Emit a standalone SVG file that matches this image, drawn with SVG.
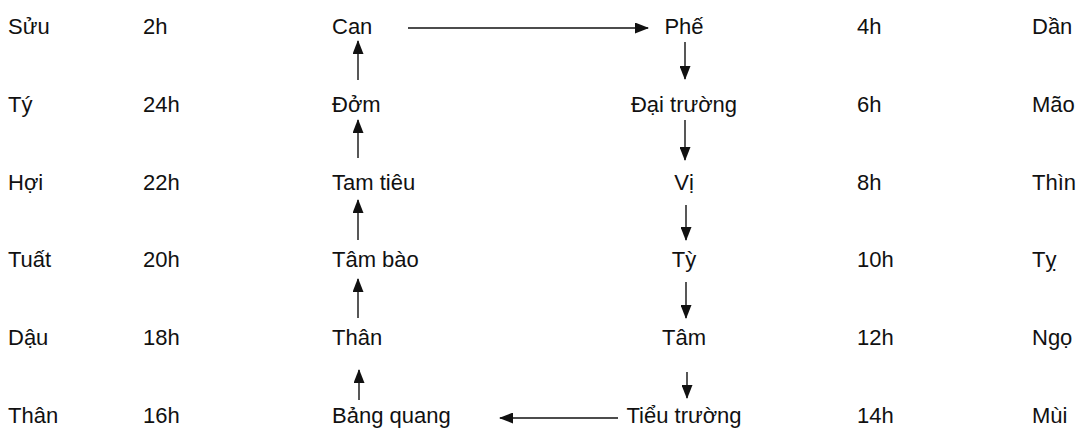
<svg xmlns="http://www.w3.org/2000/svg" width="1091" height="435" viewBox="0 0 1091 435">
<defs>
<style>
text{font-family:"Liberation Sans",Arial,sans-serif;font-size:22px;fill:#111;}
.c{text-anchor:middle;}
.ln{stroke:#111;stroke-width:1.4;fill:none;}
</style>
<marker id="ah" markerWidth="14" markerHeight="11" refX="13" refY="5.5" orient="auto" markerUnits="userSpaceOnUse">
<path d="M0,0 L14,5.5 L0,11 Z" fill="#111"/>
</marker>
</defs>
<rect width="1091" height="435" fill="#fff"/>
<g id="labels-left">
<text x="8" y="34">Sửu</text><text x="143" y="34">2h</text>
<text x="8" y="112">Tý</text><text x="143" y="112">24h</text>
<text x="8" y="190">Hợi</text><text x="143" y="190">22h</text>
<text x="8" y="267">Tuất</text><text x="143" y="267">20h</text>
<text x="8" y="345">Dậu</text><text x="143" y="345">18h</text>
<text x="8" y="423">Thân</text><text x="143" y="423">16h</text>
</g>
<g id="labels-right">
<text x="857" y="34">4h</text><text x="1032" y="34">Dần</text>
<text x="857" y="112">6h</text><text x="1032" y="112">Mão</text>
<text x="857" y="190">8h</text><text x="1032" y="190">Thìn</text>
<text x="857" y="267">10h</text><text x="1032" y="267">Tỵ</text>
<text x="857" y="345">12h</text><text x="1032" y="345">Ngọ</text>
<text x="857" y="423">14h</text><text x="1032" y="423">Mùi</text>
</g>
<g id="node-can"><text x="332" y="34">Can</text></g>
<g id="node-dom"><text x="332" y="112">Đởm</text></g>
<g id="node-tamtieu"><text x="332" y="190">Tam tiêu</text></g>
<g id="node-tambao"><text x="332" y="267">Tâm bào</text></g>
<g id="node-than"><text x="332" y="345">Thân</text></g>
<g id="node-bangquang"><text x="332" y="423">Bảng quang</text></g>
<g id="node-phe"><text class="c" x="684" y="34">Phế</text></g>
<g id="node-daitruong"><text class="c" x="684" y="112">Đại trường</text></g>
<g id="node-vi"><text class="c" x="684" y="190">Vị</text></g>
<g id="node-ty"><text class="c" x="684" y="267">Tỳ</text></g>
<g id="node-tam"><text class="c" x="684" y="345">Tâm</text></g>
<g id="node-tieutruong"><text class="c" x="684" y="423">Tiểu trường</text></g>
<g id="connectors">
<line class="ln" x1="408" y1="28" x2="648" y2="28" marker-end="url(#ah)"/>
<line class="ln" x1="685" y1="42" x2="685" y2="79" marker-end="url(#ah)"/>
<line class="ln" x1="685" y1="120" x2="685" y2="160" marker-end="url(#ah)"/>
<line class="ln" x1="686" y1="205" x2="686" y2="240" marker-end="url(#ah)"/>
<line class="ln" x1="686" y1="282" x2="686" y2="318" marker-end="url(#ah)"/>
<line class="ln" x1="687" y1="372" x2="687" y2="398" marker-end="url(#ah)"/>
<line class="ln" x1="618" y1="418" x2="500" y2="418" marker-end="url(#ah)"/>
<line class="ln" x1="359" y1="400" x2="359" y2="370" marker-end="url(#ah)"/>
<line class="ln" x1="358" y1="318" x2="358" y2="279" marker-end="url(#ah)"/>
<line class="ln" x1="358" y1="240" x2="358" y2="200" marker-end="url(#ah)"/>
<line class="ln" x1="358" y1="158" x2="358" y2="120" marker-end="url(#ah)"/>
<line class="ln" x1="358" y1="80" x2="358" y2="41" marker-end="url(#ah)"/>
</g>
</svg>
